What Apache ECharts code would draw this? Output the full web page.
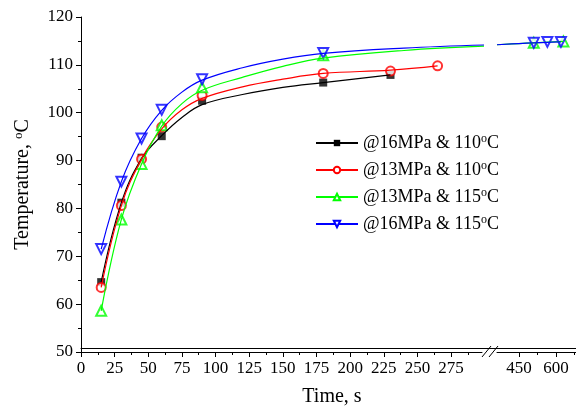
<!DOCTYPE html>
<html>
<head>
<meta charset="utf-8">
<script src="https://cdn.jsdelivr.net/npm/echarts@6/dist/echarts.min.js"></script>
<style>
  html, body { margin: 0; padding: 0; background: #fff; }
  #chart { width: 576px; height: 412px; }
</style>
</head>
<body>
<div id="chart"></div>
<script>
const seriesNames = ['@16MPa & 110°C', '@13MPa & 110°C', '@13MPa & 115°C', '@16MPa & 115°C']

// measured points, left part of the time axis
const time16_110 = [15, 30, 45, 60, 90, 180, 230]
const temp16_110 = [64.6, 81.2, 90.6, 95.1, 102.5, 106.3, 107.9]
const time13_110 = [15, 30, 45, 60, 90, 180, 230, 265]
const temp13_110 = [63.5, 80.6, 90.3, 97.0, 103.6, 108.2, 108.7, 109.8]
const time13_115 = [15, 30, 45, 60, 90, 180]
const temp13_115 = [58.6, 77.7, 89.3, 97.4, 105.3, 112.0]
const time16_115 = [15, 30, 45, 60, 90, 180]
const temp16_115 = [71.5, 85.6, 94.6, 100.6, 107.0, 112.5]

// measured points after the axis break
const time13_115Late = [510, 630]
const temp13_115Late = [114.6, 114.9]
const time16_115Late = [510, 565, 620]
const temp16_115Late = [114.6, 114.8, 114.8]

// fitted curves
const fitTime16_110 = [15, 30, 45, 60, 75, 90, 120, 150, 180, 230]
const fitTemp16_110 = [64.6, 81.2, 90.4, 95.2, 99.0, 101.7, 103.8, 105.3, 106.3, 107.9]
const fitTime13_110 = [15, 30, 45, 60, 75, 90, 120, 150, 180, 230, 265]
const fitTemp13_110 = [63.5, 80.6, 90.3, 96.6, 100.6, 103.0, 105.4, 107.0, 108.2, 108.9, 109.8]
const fitTime13_115 = [15, 30, 45, 60, 75, 90, 120, 150, 180, 240, 300]
const fitTemp13_115 = [58.6, 77.7, 89.3, 97.2, 101.9, 104.7, 107.4, 109.7, 111.4, 113.0, 113.9]
const fitTime16_115 = [15, 30, 45, 60, 75, 90, 120, 150, 180, 240, 300]
const fitTemp16_115 = [71.5, 85.6, 94.6, 100.5, 104.3, 106.8, 109.4, 111.2, 112.4, 113.5, 114.15]
const fitTime13_115Late = [361, 450, 510, 630]
const fitTemp13_115Late = [114.2, 114.45, 114.6, 114.9]
const fitTime16_115Late = [361, 450, 510, 565, 620]
const fitTemp16_115Late = [114.2, 114.45, 114.6, 114.7, 114.8]

// tick labels
const timeTicksLeft = [0, 25, 50, 75, 100, 125, 150, 175, 200, 225, 250, 275]
const timeTicksRight = [450, 600]
const timeMinorRight = [525, 675]

const colors = ['#000000', '#ff0000', '#00ff00', '#0000ff']
const symbols = ['rect', 'emptyCircle', 'emptyTriangle', 'emptyTriangle']
const symbolRotates = [0, 0, 0, 180]
const symbolSizes = [8, 9, 10, 10]

const font = '"Liberation Serif", "Times New Roman", serif'
const pairs = (xs, ys) => xs.map((x, i) => [x, ys[i]])
const supText = s => s.replace('°', '{s|o}')

const chart = echarts.init(document.getElementById('chart'))

const fits = [
  pairs(fitTime16_110, fitTemp16_110),
  pairs(fitTime13_110, fitTemp13_110),
  pairs(fitTime13_115, fitTemp13_115),
  pairs(fitTime16_115, fitTemp16_115)
]
const points = [
  pairs(time16_110, temp16_110),
  pairs(time13_110, temp13_110),
  pairs(time13_115, temp13_115),
  pairs(time16_115, temp16_115)
]
const fitsLate = [null, null, pairs(fitTime13_115Late, fitTemp13_115Late), pairs(fitTime16_115Late, fitTemp16_115Late)]
const pointsLate = [null, null, pairs(time13_115Late, temp13_115Late), pairs(time16_115Late, temp16_115Late)]

const series = []
seriesNames.forEach((name, i) => {
  const common = {
    name: name,
    symbol: symbols[i],
    symbolRotate: symbolRotates[i],
    symbolSize: symbolSizes[i],
    itemStyle: { color: colors[i], borderWidth: 1 },
    silent: true
  }
  series.push({
    ...common,
    type: 'line',
    xAxisIndex: 0,
    yAxisIndex: 0,
    smooth: 0.4,
    showSymbol: false,
    lineStyle: { color: colors[i], width: 1.2 },
    data: fits[i]
  })
  series.push({ ...common, type: 'scatter', xAxisIndex: 0, yAxisIndex: 0, data: points[i] })
  if (fitsLate[i]) {
    series.push({
      ...common,
      type: 'line',
      xAxisIndex: 1,
      yAxisIndex: 1,
      smooth: 0.4,
      showSymbol: false,
      lineStyle: { color: colors[i], width: 1.2 },
      data: fitsLate[i]
    })
    series.push({ ...common, type: 'scatter', xAxisIndex: 1, yAxisIndex: 1, data: pointsLate[i] })
  }
})

const axisBlack = { lineStyle: { color: '#000', width: 1 } }
const labelStyle = { color: '#000', fontSize: 17, fontFamily: font }

const option = {
  animation: false,
  backgroundColor: '#fff',
  grid: [
    { left: 81, top: 17, width: 401, height: 335 },
    { left: 497, top: 17, width: 79, height: 335 },
    { left: 81, top: 17, right: 0, height: 335 }
  ],
  xAxis: [
    {
      type: 'value', gridIndex: 0, min: 0, max: 298, interval: 25,
      axisLine: axisBlack,
      axisTick: { customValues: timeTicksLeft, length: 5, lineStyle: { color: '#000' } },
      minorTick: { show: true, splitNumber: 2, length: 3, lineStyle: { color: '#000' } },
      axisLabel: { ...labelStyle, customValues: timeTicksLeft, margin: 8 },
      splitLine: { show: false }
    },
    {
      type: 'value', gridIndex: 1, min: 361, max: 681,
      axisLine: axisBlack,
      axisTick: { customValues: timeTicksRight, length: 5, lineStyle: { color: '#000' } },
      axisLabel: { ...labelStyle, customValues: timeTicksRight, margin: 8 },
      splitLine: { show: false }
    },
    {
      type: 'value', gridIndex: 1, min: 361, max: 681, position: 'bottom',
      axisLine: { show: false },
      axisTick: { customValues: timeMinorRight, length: 3, lineStyle: { color: '#000' } },
      axisLabel: { show: false },
      splitLine: { show: false }
    },
    {
      type: 'value', gridIndex: 2, min: 0, max: 1, position: 'top',
      axisLine: axisBlack,
      axisTick: { show: false },
      axisLabel: { show: false },
      splitLine: { show: false }
    },
    {
      type: 'value', gridIndex: 2, min: 0, max: 1, position: 'bottom',
      axisLine: { show: false },
      axisTick: { show: false },
      axisLabel: { show: false },
      splitLine: { show: false },
      name: 'Time, s',
      nameLocation: 'middle',
      nameGap: 39,
      nameTextStyle: { color: '#000', fontSize: 20, fontFamily: font, padding: [0, 0, 0, 7] }
    }
  ],
  yAxis: [
    {
      type: 'value', gridIndex: 0, min: 50, max: 120, interval: 10,
      axisLine: { show: true, ...axisBlack },
      axisTick: { show: true, length: 5, lineStyle: { color: '#000' } },
      minorTick: { show: true, splitNumber: 2, length: 3, lineStyle: { color: '#000' } },
      axisLabel: { ...labelStyle, margin: 8 },
      splitLine: { show: false },
      name: 'Temperature, {s|o}C',
      nameLocation: 'middle',
      nameRotate: 90,
      nameGap: 47,
      nameTextStyle: {
        color: '#000', fontSize: 20, fontFamily: font,
        rich: { s: { fontSize: 13, fontFamily: font, color: '#000', padding: [0, 0, 9, 0] } }
      }
    },
    { type: 'value', gridIndex: 1, min: 50, max: 120, show: false },
    { type: 'value', gridIndex: 2, min: 0, max: 1, show: false }
  ],
  legend: {
    data: seriesNames,
    orient: 'vertical',
    left: 315,
    top: 133,
    padding: 0,
    itemWidth: 42,
    itemHeight: 8,
    itemGap: 8,
    selectedMode: false,
    formatter: supText,
    textStyle: {
      color: '#000', fontSize: 18, fontFamily: font,
      rich: { s: { fontSize: 12, fontFamily: font, color: '#000', padding: [0, 0, 8, 0] } }
    }
  },
  graphic: [
    { type: 'line', silent: true, shape: { x1: 482, y1: 357, x2: 491, y2: 346 }, style: { stroke: '#000', lineWidth: 1 } },
    { type: 'line', silent: true, shape: { x1: 489, y1: 357, x2: 498, y2: 346 }, style: { stroke: '#000', lineWidth: 1 } }
  ],
  series: series
}

chart.setOption(option)
</script>
</body>
</html>
